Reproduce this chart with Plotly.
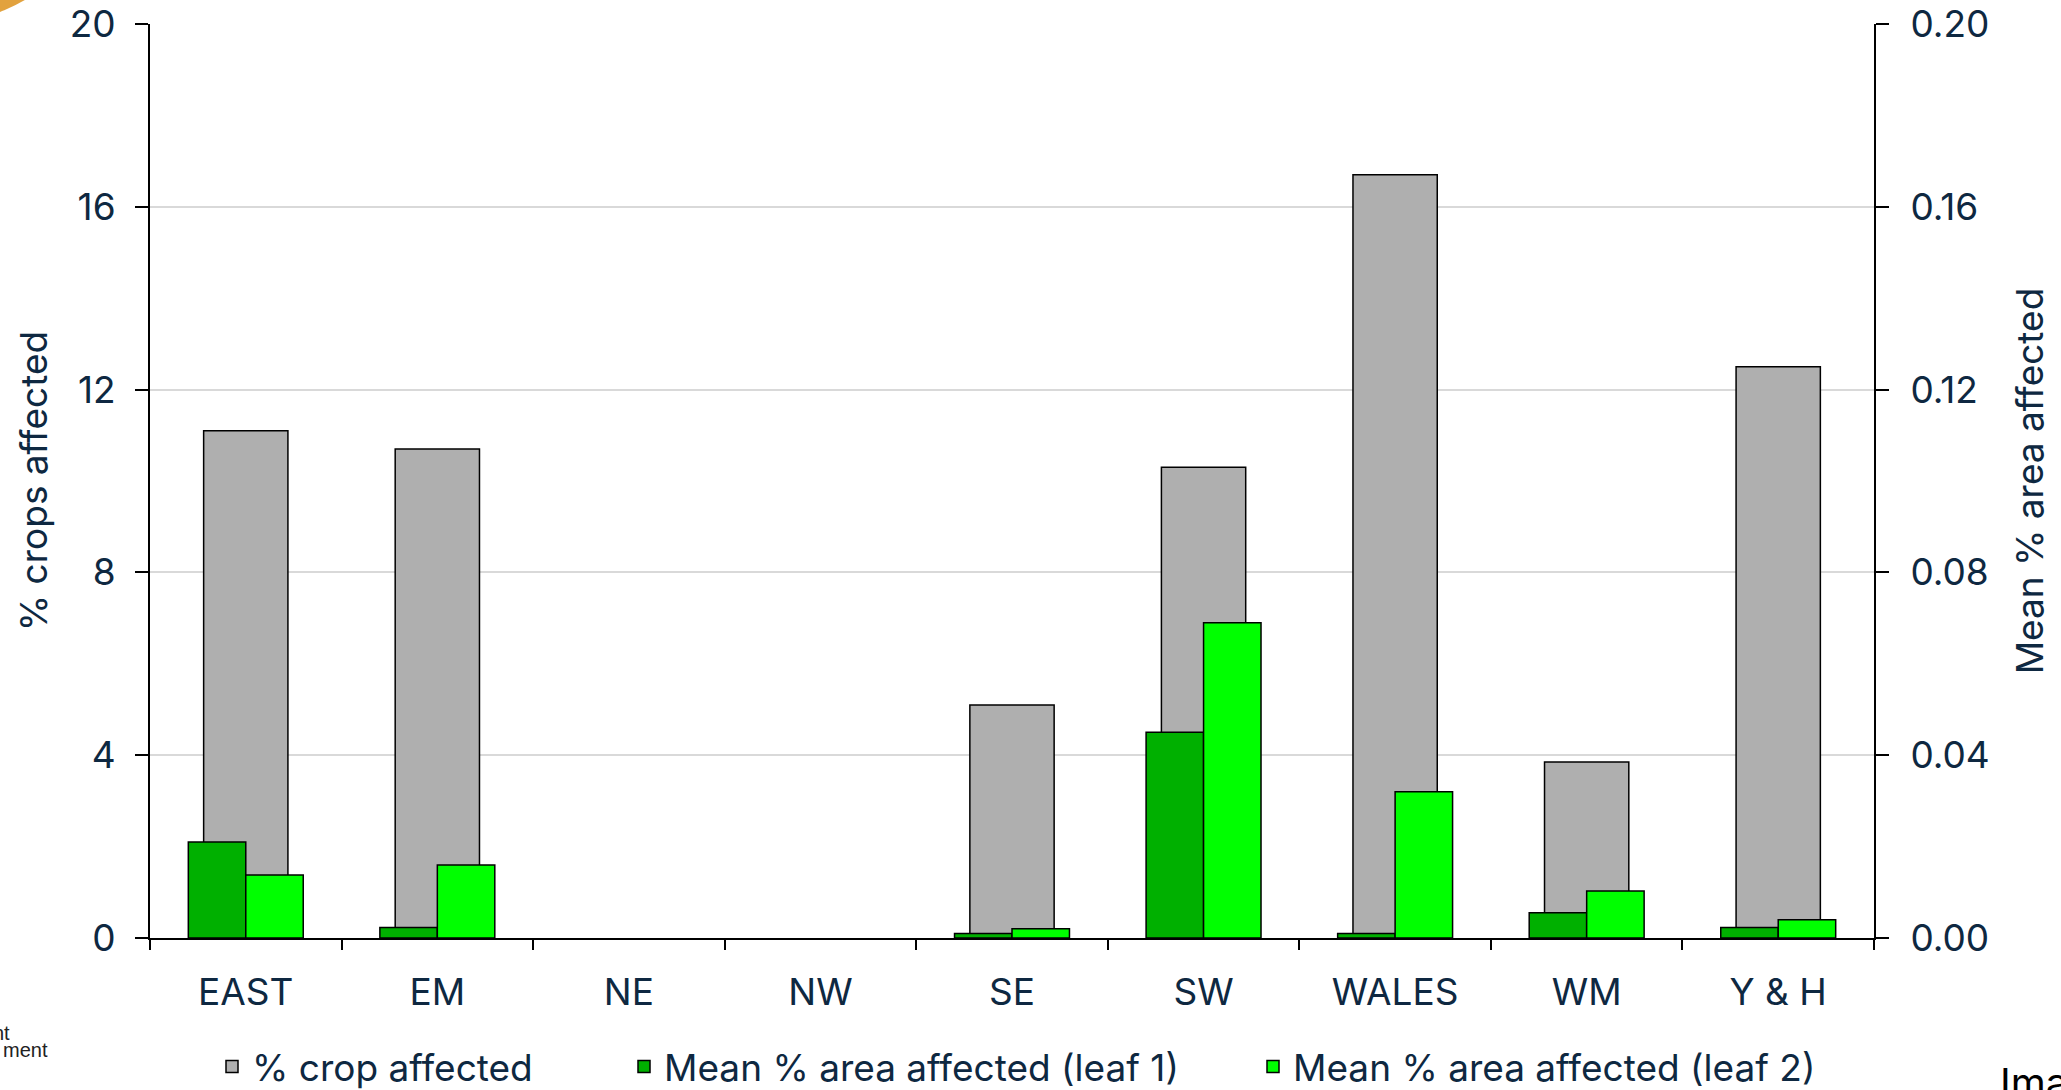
import plotly.graph_objects as go

# Regions and survey values
regions = ["EAST", "EM", "NE", "NW", "SE", "SW", "WALES", "WM", "Y & H"]
pct_crop_affected = [11.1, 10.7, 0.0, 0.0, 5.1, 10.3, 16.7, 3.85, 12.5]
mean_area_leaf1 = [0.021, 0.0023, 0.0, 0.0, 0.001, 0.045, 0.001, 0.0055, 0.0023]
mean_area_leaf2 = [0.0138, 0.016, 0.0, 0.0, 0.002, 0.069, 0.032, 0.0103, 0.004]

left_ticks = [0, 4, 8, 12, 16, 20]
right_ticks = [0.0, 0.04, 0.08, 0.12, 0.16, 0.20]

W, H = 2061, 1090
ML, MR, MT, MB = 150, 187, 24, 152
PW, PH = W - ML - MR, H - MT - MB

TEXT = "#0E2841"
FONT = "Inter"
FS = 37


def px_x(px):
    return (px - ML) / PW


def px_y(py):
    return (H - MB - py) / PH


def outline(values):
    # no outline on empty bars, so zero values leave no mark
    return [1.5 if v > 0 else 0 for v in values]


fig = go.Figure()

fig.add_trace(go.Bar(
    x=regions, y=pct_crop_affected, name="% crop affected",
    marker=dict(color="#AFAFAF", line=dict(color="black", width=outline(pct_crop_affected))),
    width=0.44, offset=-0.22, yaxis="y", legend="legend",
))
fig.add_trace(go.Bar(
    x=regions, y=mean_area_leaf1, name="Mean % area affected (leaf 1)",
    marker=dict(color="#00B000", line=dict(color="black", width=outline(mean_area_leaf1))),
    width=0.30, offset=-0.30, yaxis="y2", legend="legend2",
))
fig.add_trace(go.Bar(
    x=regions, y=mean_area_leaf2, name="Mean % area affected (leaf 2)",
    marker=dict(color="#00FF00", line=dict(color="black", width=outline(mean_area_leaf2))),
    width=0.30, offset=0.0, yaxis="y2", legend="legend3",
))

legend_style = dict(
    orientation="h", xanchor="left", y=px_y(1067), yanchor="middle",
    font=dict(family=FONT, size=FS, color=TEXT), bgcolor="rgba(0,0,0,0)",
)

fig.update_layout(
    width=W, height=H,
    margin=dict(l=ML, r=MR, t=MT, b=MB, autoexpand=False),
    paper_bgcolor="white", plot_bgcolor="white",
    font=dict(family=FONT, size=FS, color=TEXT),
    barmode="overlay",
    xaxis=dict(
        type="category", range=[-0.5, 8.5],
        showline=True, linecolor="black", linewidth=2,
        ticks="outside", tickson="boundaries", ticklen=10, tickcolor="black", tickwidth=2,
        showgrid=False, ticklabelstandoff=21,
        tickfont=dict(family=FONT, size=FS, color=TEXT),
    ),
    yaxis=dict(
        range=[0, 20], tickvals=left_ticks,
        showline=True, linecolor="black", linewidth=2,
        ticks="outside", ticklen=13, tickcolor="black", tickwidth=2,
        showgrid=True, gridcolor="#D9D9D9", gridwidth=2,
        zeroline=False, ticklabelstandoff=12,
        title=dict(text="% crops affected", standoff=11,
                   font=dict(family=FONT, size=FS, color=TEXT)),
        tickfont=dict(family=FONT, size=FS, color=TEXT),
    ),
    yaxis2=dict(
        range=[0, 0.2], tickvals=right_ticks, tickformat=".2f",
        overlaying="y", side="right",
        showline=True, linecolor="black", linewidth=2,
        ticks="outside", ticklen=13, tickcolor="black", tickwidth=2,
        showgrid=False, zeroline=False, ticklabelstandoff=14,
        title=dict(text="Mean % area affected", standoff=28,
                   font=dict(family=FONT, size=FS, color=TEXT)),
        tickfont=dict(family=FONT, size=FS, color=TEXT),
    ),
    legend=dict(legend_style, x=px_x(212)),
    legend2=dict(legend_style, x=px_x(624)),
    legend3=dict(legend_style, x=px_x(1253)),
    showlegend=True,
)

# Decorative arc in the top-left corner
cx, cy, r = -60, -145, 168
fig.add_shape(
    type="circle", xref="paper", yref="paper",
    x0=px_x(cx - r), x1=px_x(cx + r), y0=px_y(cy + r), y1=px_y(cy - r),
    fillcolor="#E2A23E", line=dict(width=0), layer="above",
)

# Fragments of neighbouring page text at the edges
fig.add_annotation(text="nt", xref="paper", yref="paper", x=px_x(12), y=px_y(1033),
                   xanchor="right", yanchor="middle", showarrow=False,
                   font=dict(family="Liberation Sans", size=20, color="#222222"))
fig.add_annotation(text="ment", xref="paper", yref="paper", x=px_x(50), y=px_y(1050),
                   xanchor="right", yanchor="middle", showarrow=False,
                   font=dict(family="Liberation Sans", size=20, color="#222222"))
fig.add_annotation(text="Ima", xref="paper", yref="paper", x=px_x(1998), y=px_y(1056),
                   xanchor="left", yanchor="top", showarrow=False,
                   font=dict(family=FONT, size=40, color="black"))

fig.write_html("out.html")
